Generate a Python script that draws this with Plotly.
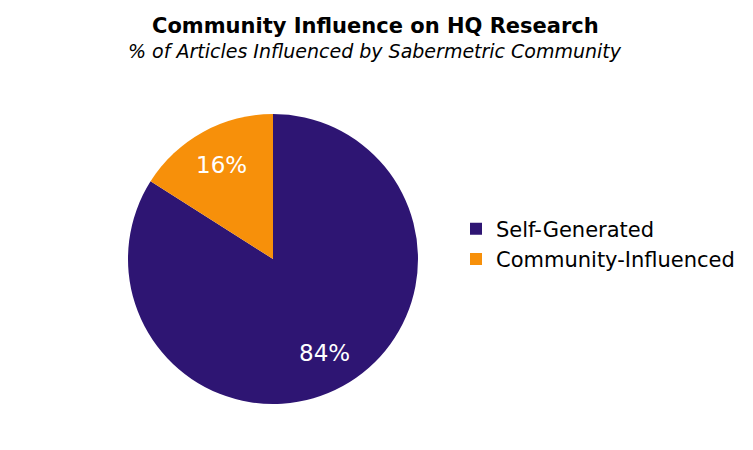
import math
import plotly.graph_objects as go

labels = ["Self-Generated", "Community-Influenced"]
values = [84, 16]
colors = ["#2E1573", "#F7900A"]

# page is drawn with an 8px body margin, so positions below are shifted by -8
W, H = 753, 450
cx, cy, rad = 265, 251, 145  # pie centre / radius in figure pixels

fig = go.Figure()

fig.add_trace(
    go.Pie(
        labels=labels,
        values=values,
        sort=False,
        direction="clockwise",
        rotation=0,
        marker=dict(colors=colors, line=dict(width=0)),
        textinfo="none",
        domain=dict(x=[(cx - rad) / W, (cx + rad) / W],
                    y=[1 - (cy + rad) / H, 1 - (cy - rad) / H]),
        hoverinfo="label+percent",
    )
)

# percentage labels placed at slice mid-angles
total = sum(values)
start = 0.0
for v in values:
    mid = (start + v / 2) / total * 2 * math.pi
    start += v
    r = 0.74 * rad
    px = cx + r * math.sin(mid)
    py = cy - r * math.cos(mid)
    fig.add_annotation(
        text=f"{v / total:.0%}",
        x=px / W, y=1 - py / H, xref="paper", yref="paper",
        xanchor="center", yanchor="middle", showarrow=False,
        font=dict(size=23, color="white", family="DejaVu Sans"),
    )

fig.add_annotation(
    text="<b>Community Influence on HQ Research</b>",
    x=367 / W, y=1 - 18 / H, xref="paper", yref="paper",
    xanchor="center", yanchor="middle", showarrow=False,
    font=dict(size=21, color="black", family="DejaVu Sans"),
)
fig.add_annotation(
    text="<i>% of Articles Influenced by Sabermetric Community</i>",
    x=367 / W, y=1 - 43 / H, xref="paper", yref="paper",
    xanchor="center", yanchor="middle", showarrow=False,
    font=dict(size=19, color="black", family="DejaVu Sans"),
)

fig.update_layout(
    width=W,
    height=H,
    margin=dict(l=0, r=0, t=0, b=0),
    paper_bgcolor="white",
    plot_bgcolor="white",
    showlegend=True,
    legend=dict(
        x=448 / W, y=1 - 236 / H,
        xanchor="left", yanchor="middle",
        font=dict(size=21, color="black", family="DejaVu Sans"),
        itemsizing="constant",
        tracegroupgap=0,
    ),
    font=dict(family="DejaVu Sans"),
)

fig.write_html("out.html")
